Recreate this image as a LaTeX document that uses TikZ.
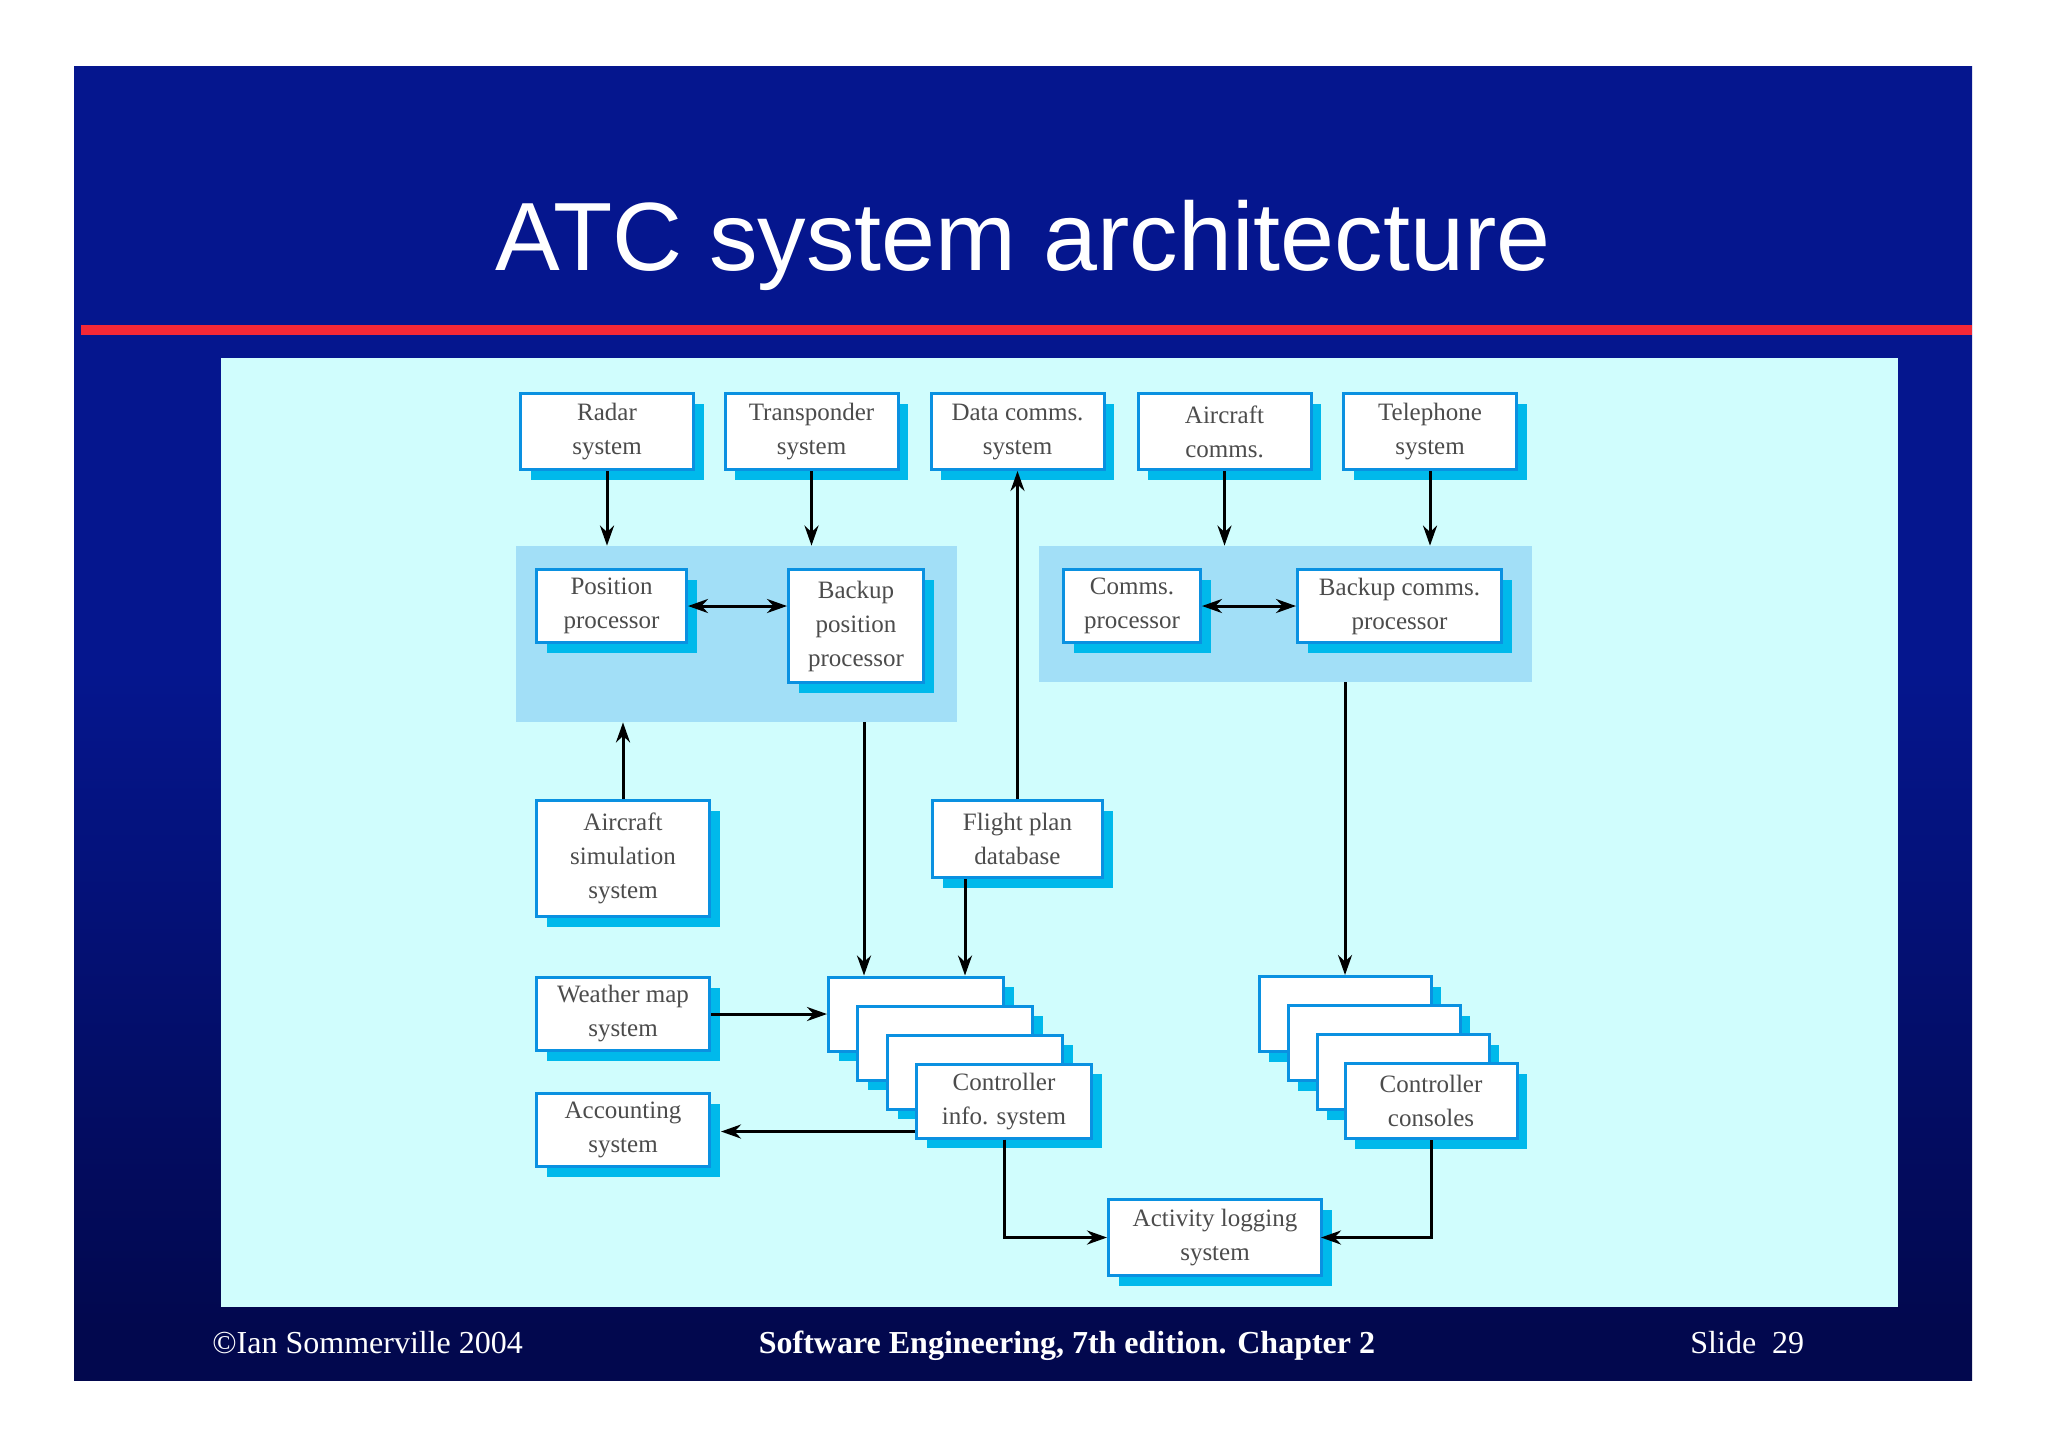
\documentclass[tikz,border=0pt]{standalone}
\usepackage{fontspec}
\setmainfont{Liberation Serif}
\newfontfamily\titlefont{Liberation Sans}
\usetikzlibrary{shadows}
\usetikzlibrary{arrows.meta}
\definecolor{slidetop}{RGB}{5,22,142}
\definecolor{slidebot}{RGB}{2,8,78}
\definecolor{rulered}{RGB}{245,40,55}
\definecolor{paneback}{RGB}{208,253,253}
\definecolor{groupblue}{RGB}{162,223,247}
\definecolor{boxline}{RGB}{10,145,225}
\definecolor{boxshadow}{RGB}{0,185,235}
\pgfdeclareverticalshading{slideshade}{100bp}{color(0bp)=(slidebot); color(27bp)=(slidebot); color(52bp)=(slidetop); color(100bp)=(slidetop)}
\tikzset{
	sysbox/.style={rectangle,draw=boxline,line width=1.5pt,fill=white,text=black!70,align=center,
		font=\fontsize{12.5}{17}\selectfont,inner sep=1pt,minimum width=86.5pt,minimum height=38pt,
		drop shadow={shadow xshift=5pt,shadow yshift=-5pt,fill=boxshadow,opacity=1}},
	groupbox/.style={rectangle,fill=groupblue,inner sep=0pt},
	flow/.style={-{Stealth[length=10pt,width=7pt]},line width=1.5pt},
	dflow/.style={{Stealth[length=10pt,width=7pt]}-{Stealth[length=10pt,width=7pt]},line width=1.5pt},
	foottext/.style={text=white,font=\fontsize{16}{19}\selectfont,inner sep=0pt}
}
\begin{document}
\begin{tikzpicture}[x=0.5pt,y=-0.5pt]
	\useasboundingbox (0,0) rectangle (2048,1447);
	% slide
	\fill[white] (0,0) rectangle (2048,1447);
	\fill[shading=slideshade] (74,66) rectangle (1972,1380);
	\fill[rulered] (81,325) rectangle (1972,335);
	\fill[paneback] (221,358) rectangle (1898,1307);
	\node[text=white,anchor=base,inner sep=0pt,font=\titlefont\fontsize{48.5}{58}\selectfont] (title) at (1023,270) {ATC system architecture};
	% groups
	\node[groupbox,minimum width=220.5pt,minimum height=88pt] (posgrp) at (736.5,634) {};
	\node[groupbox,minimum width=246.5pt,minimum height=68pt] (comgrp) at (1285.5,614) {};
	% top row
	\node[sysbox] (radar) at (607,431.5) {Radar\\system};
	\node[sysbox] (trans) at (811.5,431.5) {Transponder\\system};
	\node[sysbox] (datacom) at (1017.5,431.5) {Data comms.\\system};
	\node[sysbox] (accom) at (1224.5,431.5) {Aircraft\\comms.};
	\node[sysbox] (phone) at (1430,431.5) {Telephone\\system};
	% processors
	\node[sysbox,minimum width=75pt,minimum height=36.5pt] (pos) at (611.5,606) {Position\\processor};
	\node[sysbox,minimum width=67.5pt,minimum height=56.5pt] (bpos) at (856,626) {Backup\\position\\processor};
	\node[sysbox,minimum width=68.5pt,minimum height=36.5pt] (com) at (1132,606) {Comms.\\processor};
	\node[sysbox,minimum width=102pt,minimum height=36.5pt] (bcom) at (1399.5,606) {Backup comms.\\processor};
	% middle and left
	\node[sysbox,minimum height=58pt] (sim) at (623,858.5) {Aircraft\\simulation\\system};
	\node[sysbox,minimum width=85pt,minimum height=38.5pt] (fpd) at (1017.5,839) {Flight plan\\database};
	\node[sysbox,minimum height=36.5pt] (wms) at (623,1014) {Weather map\\system};
	\node[sysbox,minimum height=36.5pt] (acc) at (623,1130) {Accounting\\system};
	% controller info stack
	\node[sysbox,minimum width=87.5pt,minimum height=37pt] (cis1) at (916,1014) {};
	\node[sysbox,minimum width=87.5pt,minimum height=37pt] (cis2) at (945,1043) {};
	\node[sysbox,minimum width=87.5pt,minimum height=37pt] (cis3) at (975,1072) {};
	\node[sysbox,minimum width=87.5pt,minimum height=37pt] (cis4) at (1004,1101) {Controller\\info. system};
	% console stack
	\node[sysbox,minimum width=86pt,minimum height=37.5pt] (cc1) at (1345,1014) {};
	\node[sysbox,minimum width=86pt,minimum height=37.5pt] (cc2) at (1374,1043) {};
	\node[sysbox,minimum width=86pt,minimum height=37.5pt] (cc3) at (1403,1072) {};
	\node[sysbox,minimum width=86pt,minimum height=37.5pt] (cc4) at (1431,1101) {Controller\\consoles};
	\node[sysbox,minimum width=106.5pt] (act) at (1215,1237.5) {Activity logging\\system};
	% footer
	\node[foottext,anchor=base west] (copy) at (212,1353) {\copyright Ian Sommerville 2004};
	\node[foottext,anchor=base,font=\bfseries\fontsize{16}{19}\selectfont] (book) at (1067,1353) {Software Engineering, 7th edition. Chapter 2};
	\node[foottext,anchor=base west] (slide) at (1690,1353) {Slide\enspace 29};
	% connectors
	\coordinate (bpin) at ([xshift=18.5pt]cis1.north west);
	\coordinate (fpin) at ([xshift=-20pt]cis1.north east);
	\coordinate (cisout) at ([yshift=4pt]cis4.south west);
	\draw[flow] (radar.south) -- (radar.south |- posgrp.north);
	\draw[flow] (trans.south) -- (trans.south |- posgrp.north);
	\draw[flow] (accom.south) -- (accom.south |- comgrp.north);
	\draw[flow] (phone.south) -- (phone.south |- comgrp.north);
	\draw[dflow] (pos.east) -- (pos.east -| bpos.west);
	\draw[dflow] (com.east) -- (com.east -| bcom.west);
	\draw[flow] (sim.north) -- (sim.north |- posgrp.south);
	\draw[flow] (fpd.north) -- (datacom.south);
	\draw[flow] (fpin |- fpd.south) -- (fpin);
	\draw[flow] (bpin |- posgrp.south) -- (bpin);
	\draw[flow] (cc1.north |- comgrp.south) -- (cc1.north);
	\draw[flow] (wms.east) -- (wms.east -| cis1.west);
	\draw[flow,shorten >=5pt] (cisout) -- (cisout -| acc.east);
	\draw[flow] (cis4.south) |- (act.west);
	\draw[flow,shorten >=-1pt] (cc4.south) |- (act.east);
\end{tikzpicture}
\end{document}
